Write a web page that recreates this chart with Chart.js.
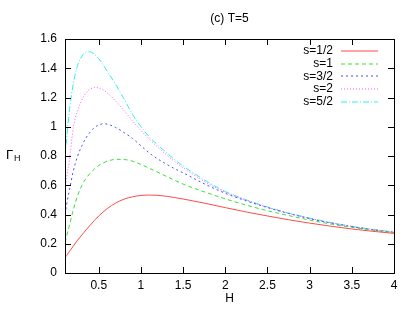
<!DOCTYPE html>
<html>
<head>
<meta charset="utf-8">
<script src="https://cdn.jsdelivr.net/npm/chart.js@4"></script>
<style>
  html, body { margin: 0; padding: 0; background: #fff; }
  #wrap { width: 415px; height: 312px; }
</style>
</head>
<body>
<div id="wrap"><canvas id="chart" width="415" height="312"></canvas></div>
<script>
// values
const hValues = [0.1, 0.12, 0.15, 0.2, 0.25, 0.3, 0.35, 0.4, 0.45, 0.5, 0.55, 0.6, 0.7, 0.8, 0.9, 1.0,
  1.1, 1.2, 1.3, 1.4, 1.5, 1.75, 2.0, 2.25, 2.5, 2.75, 3.0, 3.25, 3.5, 3.75, 4.0];

const gammaHalf = [0.105, 0.12, 0.145, 0.185, 0.225, 0.26, 0.295, 0.328, 0.36, 0.39, 0.416, 0.44, 0.478, 0.505, 0.521, 0.53,
  0.533, 0.531, 0.525, 0.516, 0.506, 0.478, 0.447, 0.417, 0.39, 0.364, 0.341, 0.32, 0.301, 0.285, 0.271];
const gammaOne = [0.21, 0.255, 0.32, 0.435, 0.53, 0.598, 0.648, 0.683, 0.712, 0.735, 0.752, 0.764, 0.777, 0.776, 0.765, 0.742,
  0.716, 0.689, 0.661, 0.634, 0.608, 0.555, 0.507, 0.464, 0.426, 0.393, 0.362, 0.335, 0.312, 0.293, 0.276];
const gammaThreeHalf = [0.40, 0.47, 0.56, 0.70, 0.80, 0.87, 0.925, 0.965, 0.995, 1.012, 1.02, 1.018, 0.995, 0.96, 0.92, 0.87,
  0.82, 0.78, 0.745, 0.713, 0.685, 0.61, 0.545, 0.493, 0.447, 0.407, 0.372, 0.342, 0.317, 0.296, 0.278];
const gammaTwo = [0.58, 0.66, 0.76, 1.0, 1.11, 1.185, 1.232, 1.258, 1.268, 1.265, 1.252, 1.232, 1.175, 1.11, 1.04, 0.975,
  0.915, 0.86, 0.81, 0.762, 0.72, 0.627, 0.553, 0.497, 0.45, 0.409, 0.374, 0.344, 0.318, 0.297, 0.279];
const gammaFiveHalf = [0.80, 0.92, 1.10, 1.30, 1.42, 1.482, 1.51, 1.512, 1.495, 1.465, 1.425, 1.38, 1.29, 1.19, 1.085, 1.0,
  0.93, 0.875, 0.825, 0.775, 0.732, 0.637, 0.558, 0.5, 0.452, 0.41, 0.375, 0.345, 0.319, 0.298, 0.28];

const seriesLabels = ['s=1/2', 's=1', 's=3/2', 's=2', 's=5/2'];
const xTicks = [0.5, 1, 1.5, 2, 2.5, 3, 3.5, 4];
const yTicks = [0, 0.2, 0.4, 0.6, 0.8, 1, 1.2, 1.4, 1.6];

const FONT = "'Liberation Sans', Arial, sans-serif";

function points(ys) {
  return hValues.map((h, i) => ({ x: h, y: ys[i] }));
}

const styles = [
  { color: '#ff4a4a', dash: [] },
  { color: '#3ddd3d', dash: [4, 3] },
  { color: '#4d4dff', dash: [2, 3] },
  { color: '#ff55ff', dash: [1, 2] },
  { color: '#33eeee', dash: [6, 2, 1, 2] }
];

const allSeries = [gammaHalf, gammaOne, gammaThreeHalf, gammaTwo, gammaFiveHalf];

const datasets = allSeries.map((ys, i) => ({
  label: seriesLabels[i],
  data: points(ys),
  borderColor: styles[i].color,
  borderDash: styles[i].dash,
  borderWidth: 1,
  pointRadius: 0,
  fill: false,
  cubicInterpolationMode: 'monotone'
}));

// frame, inward ticks on all sides, title, axis labels and legend, gnuplot style
const gnuplotDecor = {
  id: 'gnuplotDecor',
  afterDatasetsDraw(chart) {
    const ctx = chart.ctx;
    const a = chart.chartArea;
    const xs = chart.scales.x, ys = chart.scales.y;
    const tl = 6;
    ctx.save();
    ctx.strokeStyle = '#000';
    ctx.lineWidth = 1;
    ctx.setLineDash([]);
    ctx.beginPath();
    xTicks.forEach(v => {
      const px = Math.round(xs.getPixelForValue(v)) + 0.5;
      ctx.moveTo(px, a.bottom); ctx.lineTo(px, a.bottom - tl);
      ctx.moveTo(px, a.top); ctx.lineTo(px, a.top + tl);
    });
    yTicks.forEach(v => {
      const py = Math.round(ys.getPixelForValue(v)) + 0.5;
      ctx.moveTo(a.left, py); ctx.lineTo(a.left + tl, py);
      ctx.moveTo(a.right, py); ctx.lineTo(a.right - tl, py);
    });
    ctx.stroke();
    ctx.strokeRect(Math.round(a.left) + 0.5, Math.round(a.top) + 0.5,
      Math.round(a.right - a.left), Math.round(a.bottom - a.top));

    ctx.fillStyle = '#000';
    ctx.font = '12px ' + FONT;
    ctx.textAlign = 'center';
    ctx.textBaseline = 'middle';
    ctx.fillText('(c) T=5', (a.left + a.right) / 2, 19);
    ctx.fillText('H', (a.left + a.right) / 2, 299);

    // y label: Gamma with subscript H
    ctx.font = '13px ' + FONT;
    ctx.textAlign = 'left';
    ctx.fillText('Γ', 6, 155);
    ctx.font = '9px ' + FONT;
    ctx.fillText('H', 14, 159);

    // legend: text right aligned, sample to the right
    ctx.font = '12px ' + FONT;
    seriesLabels.forEach((label, i) => {
      const y = 51 + i * 12.7;
      ctx.fillStyle = '#000';
      ctx.textAlign = 'right';
      ctx.fillText(label, 333, y);
      ctx.strokeStyle = styles[i].color;
      ctx.lineWidth = 1.2;
      ctx.setLineDash(styles[i].dash);
      ctx.beginPath();
      ctx.moveTo(341, Math.round(y));
      ctx.lineTo(378, Math.round(y));
      ctx.stroke();
    });
    ctx.restore();
  }
};

const fmt = v => String(Number(v));

new Chart(document.getElementById('chart'), {
  type: 'line',
  data: { datasets },
  options: {
    responsive: false,
    animation: false,
    layout: { padding: { top: 39, right: 21, bottom: 0, left: 0 } },
    plugins: { legend: { display: false }, tooltip: { enabled: false } },
    scales: {
      x: {
        type: 'linear',
        min: 0.1,
        max: 4,
        afterBuildTicks: s => { s.ticks = xTicks.map(v => ({ value: v })); },
        afterFit: s => { s.height = 39; },
        grid: { display: false, drawTicks: false },
        border: { display: false },
        ticks: { color: '#000', padding: 5, maxRotation: 0, callback: fmt, font: { family: FONT, size: 12 } }
      },
      y: {
        type: 'linear',
        min: 0,
        max: 1.6,
        afterBuildTicks: s => { s.ticks = yTicks.map(v => ({ value: v })); },
        afterFit: s => { s.width = 65; },
        grid: { display: false, drawTicks: false },
        border: { display: false },
        ticks: { color: '#000', padding: 8, callback: fmt, font: { family: FONT, size: 12 } }
      }
    }
  },
  plugins: [gnuplotDecor]
});
</script>
</body>
</html>
